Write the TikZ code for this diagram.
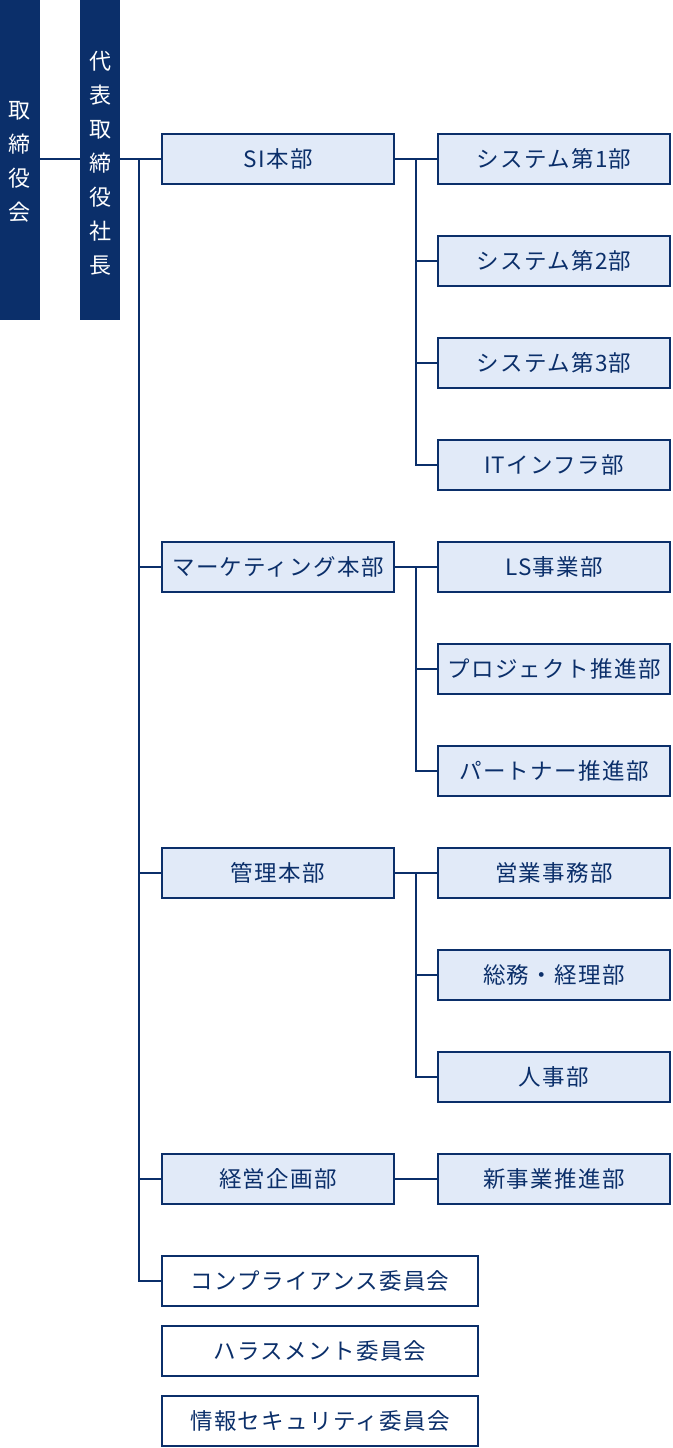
\documentclass[tikz,border=0pt]{standalone}
\usepackage{fontspec}
\usepackage{tikz}
\usetikzlibrary{calc, positioning}

\newfontfamily\jpfont{Noto Sans CJK JP}[LetterSpace=6]
\newfontfamily\barfont{Noto Sans CJK JP}
\definecolor{navy}{HTML}{0B2F6A}
\definecolor{paleblue}{HTML}{E1EAF8}

\begin{document}
\begin{tikzpicture}[
    x=1pt, y=-1pt,
    bar/.style={
        rectangle,
        fill=navy,
        minimum width=40pt,
        minimum height=320pt,
        inner sep=0pt
    },
    bartext/.style={
        text=white,
        align=center,
        font={\barfont\fontsize{22}{34}\selectfont}
    },
    dept/.style={
        rectangle,
        draw=navy,
        line width=2pt,
        fill=paleblue,
        text=navy,
        minimum width=232pt,
        minimum height=50pt,
        inner sep=0pt,
        font={\jpfont\fontsize{22.5}{24}\selectfont}
    },
    committee/.style={
        dept,
        fill=white,
        minimum width=316pt
    },
    link/.style={
        draw=navy,
        line width=2pt
    }
]

\useasboundingbox (0,0) rectangle (672,1448);

% left bars
\node[bar] (board) at (20,160) {};
\node[bartext] at (20,162) {取\\締\\役\\会};
\node[bar] (pres) at (100,160) {};
\node[bartext] at (100,163) {代\\表\\取\\締\\役\\社\\長};

% main divisions
\node[dept] (si) at (278,159) {SI本部};
\node[dept] (mk) at (278,567) {マーケティング本部};
\node[dept] (kanri) at (278,873) {管理本部};
\node[dept] (keiei) at (278,1179) {経営企画部};

% committees
\node[committee] (cp) at (320,1281) {コンプライアンス委員会};
\node[committee] (hara) at (320,1351) {ハラスメント委員会};
\node[committee] (sec) at (320,1421) {情報セキュリティ委員会};

% departments
\foreach \nm/\txt/\yy in {
    s1/システム第1部/159, s2/システム第2部/261, s3/システム第3部/363,
    s4/ITインフラ部/465, ls/LS事業部/567, pj/プロジェクト推進部/669,
    pt/パートナー推進部/771, eg/営業事務部/873, sm/総務・経理部/975,
    jinji/人事部/1077, shin/新事業推進部/1179} {
    \node[dept] (\nm) at (554,\yy) {\txt};
}

\coordinate (trunk) at (139,0);
\coordinate (sub) at (416,0);

% board -> president -> divisions
\draw[link] (board.east |- si) -- (pres.west |- si);
\draw[link] (pres.east |- si) -- (si.west);
\draw[link] (trunk |- si) -- (trunk |- cp) -- (cp.west);
\foreach \d in {mk,kanri,keiei} {
    \draw[link] (trunk |- \d) -- (\d.west);
}

% divisions -> departments
\draw[link] (si.east) -- (s1.west);
\draw[link] (sub |- s1) -- (sub |- s4) -- (s4.west);
\foreach \d in {s2,s3} {
    \draw[link] (sub |- \d) -- (\d.west);
}
\draw[link] (mk.east) -- (ls.west);
\draw[link] (sub |- ls) -- (sub |- pt) -- (pt.west);
\draw[link] (sub |- pj) -- (pj.west);
\draw[link] (kanri.east) -- (eg.west);
\draw[link] (sub |- eg) -- (sub |- jinji) -- (jinji.west);
\draw[link] (sub |- sm) -- (sm.west);
\draw[link] (keiei.east) -- (shin.west);

\end{tikzpicture}
\end{document}
